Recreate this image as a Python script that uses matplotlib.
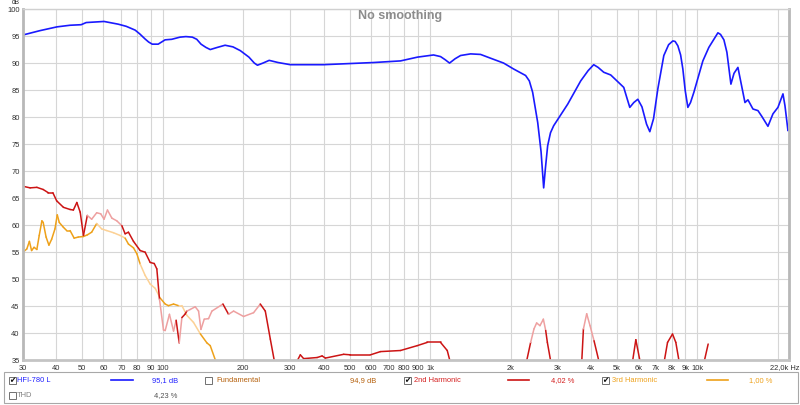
import matplotlib
matplotlib.use("Agg")
import matplotlib.pyplot as plt
from matplotlib.collections import LineCollection
from matplotlib.patches import Rectangle
import numpy as np

plt.rcParams["font.family"] = ["Liberation Sans", "DejaVu Sans"]

# ---------------- data ----------------
spl_freq = [30, 34.7, 40.2, 45, 49.5, 51.7, 60.3, 68.1, 73, 78.8, 82, 85.9, 88.5, 91.3, 96.1,
            99, 102, 108, 116, 122, 129, 134, 139, 145, 150.5, 160, 171, 183, 195, 210, 220,
            226, 237, 250, 270, 300, 399, 614, 775, 897, 1030, 1094, 1140, 1182, 1240,
            1300, 1417, 1544, 1683, 1883, 2053, 2276, 2350, 2418, 2526, 2600, 2659, 2700,
            2752, 2820, 2898, 3271, 3658, 3900, 4092, 4250, 4461, 4737, 5300, 5450, 5583,
            5780, 5983, 6200, 6450, 6634, 6850, 7107, 7485, 7800, 8091, 8250, 8446, 8650,
            8818, 9000, 9207, 9420, 9697, 10476, 11031, 11926, 12200, 12558, 12886, 13339,
            13700, 14169, 15055, 15447, 16128, 16839, 17425, 18350, 19160, 20004, 20886,
            21250, 21804, 22000]
spl_db = [95.1, 95.9, 96.6, 96.9, 97.0, 97.4, 97.6, 97.1, 96.7, 96.0, 95.3, 94.35, 93.8, 93.4,
          93.4, 93.8, 94.2, 94.3, 94.7, 94.8, 94.7, 94.3, 93.4, 92.8, 92.4, 92.8, 93.2, 92.9,
          92.2, 91.0, 89.9, 89.5, 89.9, 90.4, 90.0, 89.6, 89.6, 90.0, 90.3, 91.0, 91.4, 91.1,
          90.5, 89.9, 90.7, 91.3, 91.6, 91.5, 90.8, 89.9, 88.8, 87.6, 86.6, 84.5, 78.9, 73.5,
          66.8, 70.5, 74.6, 77.0, 78.3, 82.3, 86.6, 88.5, 89.6, 89.1, 88.2, 87.7, 85.4, 83.4,
          81.7, 82.6, 83.2, 81.8, 78.6, 77.2, 79.6, 85.1, 91.3, 93.3, 94.0, 93.9, 93.1, 91.4,
          88.8, 84.8, 81.7, 82.6, 84.5, 90.3, 92.8, 95.5, 95.2, 94.2, 91.9, 86.0, 88.0, 89.1,
          82.6, 83.1, 81.4, 81.1, 80.0, 78.2, 80.5, 81.7, 84.2, 82.0, 77.4, 77.6]

h2_freq = [30, 31.9, 33.8, 35.7, 37.3, 38.8, 40.1, 42.5, 45.0, 46.3, 47.7, 49.1, 50.5, 52.2,
           54.2, 56.6, 58.6, 60.3, 62.1, 64.5, 67.3, 70.3, 72.3, 74.4, 77.7, 82.3, 85.9, 89.7,
           92.9, 95.0, 97.2, 100.6, 102.1, 105.9, 109.7, 112.2, 115.2, 117.9, 121, 123.1,
           126.7, 132.2, 136.1, 138.9, 142.9, 148.3, 152.7, 167.9, 176.2, 184.0, 200.6, 218.6,
           231.6, 241.8, 252.5, 262, 290, 316, 327, 336.4, 377.8, 394.4, 405.8, 475, 503.3,
           598, 652, 774.6, 894.7, 975.4, 1094, 1159, 1190, 1700, 2290, 2377, 2446, 2503,
           2576, 2652, 2706, 2745, 2830, 3300, 3690, 3745, 3852, 3964, 4103, 4290, 5000,
           5710, 5881, 6110, 6800, 7500, 7728, 8067, 8300, 8550, 9500, 10580, 10966]
h2_db = [67.1, 66.8, 66.9, 66.5, 65.9, 65.9, 64.4, 63.2, 62.8, 62.7, 64.1, 62.3, 58.0, 61.7,
         61.0, 62.2, 62.0, 61.0, 62.7, 61.2, 60.7, 59.8, 58.3, 58.6, 56.9, 55.2, 54.9, 53.0,
         52.8, 51.8, 46.2, 40.5, 40.4, 43.4, 40.3, 42.3, 38.1, 42.8, 43.4, 44.0,
         44.3, 44.8, 44.0, 40.6, 42.5, 42.6, 44.0, 45.3, 43.4, 44.0, 43.0, 43.7,
         45.3, 44.0, 38.8, 34.5, 30, 34.5, 35.9, 35.2, 35.4, 35.7, 35.3, 36.0, 35.9,
         35.9, 36.5, 36.7, 37.6, 38.2, 38.2, 36.7, 34.5, 30, 34.5, 38.2, 40.7, 41.8,
         41.3, 42.5, 40.4, 38.2, 34.5, 30, 34.5, 40.7, 43.5, 41.3, 38.5, 34.5, 30,
         34.5, 38.7, 34.5, 30, 34.5, 38.2, 39.75, 38.2, 34.5, 30, 34.5, 37.9]
h2_light = [(51.5, 71), (97, 113), (116, 119), (124.5, 167), (176.5, 236), (2390, 2715), (3755, 4060)]

h3_freq = [30, 31.0, 31.7, 32.3, 33.0, 33.8, 34.5, 35.3, 35.7, 36.6, 37.5, 38.4, 39.5, 40.3,
           41.0, 42.5, 43.7, 45.0, 46.6, 48.3, 50.5, 52.2, 54.2, 56.6, 59.1, 61.7, 65.4, 69.2,
           72.3, 74.4, 77.7, 80.0, 82.3, 85.9, 89.7, 93.7, 97.8, 102.1, 105.0, 109.7, 114.5,
           117.9, 123.1, 130.3, 138.1, 146.3, 150.5, 157.1, 160]
h3_db = [54.9, 55.5, 56.9, 55.2, 55.8, 55.4, 58.0, 60.7, 60.4, 57.7, 56.2, 57.3, 59.2, 61.8,
         60.4, 59.5, 58.9, 58.9, 57.5, 57.7, 57.8, 58.1, 58.6, 60.2, 59.2, 58.9, 58.5, 58.0,
         57.5, 56.4, 55.7, 54.6, 52.7, 50.6, 49.0, 48.2, 46.4, 45.3, 45.0, 45.3, 45.0,
         45.0, 43.2, 41.9, 39.8, 38.1, 37.6, 35.0, 34.0]
h3_light = [(57, 72.3), (83.7, 97.8), (116, 141.7)]

x_ticks = [30, 40, 50, 60, 70, 80, 90, 100, 200, 300, 400, 500, 600, 700, 800, 900,
           1000, 2000, 3000, 4000, 5000, 6000, 7000, 8000, 9000, 10000, 20000]
x_labels = ["30", "40", "50", "60", "70", "80", "90", "100", "200", "300", "400", "500",
            "600", "700", "800", "900", "1k", "2k", "3k", "4k", "5k", "6k", "7k", "8k",
            "9k", "10k", ""]
y_ticks = list(range(35, 101, 5))

# ---------------- figure ----------------
W, H = 800, 406
FS = 5.4
fig = plt.figure(figsize=(W / 100, H / 100), dpi=100)
fig.patch.set_facecolor("white")
ax = fig.add_axes([23 / W, (H - 360.7) / H, 766 / W, 351.2 / H])
ax.set_xscale("log")
ax.set_xlim(30, 22000)
ax.set_ylim(35, 100)

ax.set_xticks(x_ticks)
ax.set_xticklabels(x_labels)
ax.xaxis.set_minor_locator(matplotlib.ticker.NullLocator())
ax.set_yticks(y_ticks)
ax.set_yticklabels([str(v) for v in y_ticks])
ax.tick_params(axis="both", length=0, labelsize=FS, colors="#303030")
ax.tick_params(axis="x", pad=3)
ax.tick_params(axis="y", pad=2.5)
ax.grid(True, color="#d6d6d6", lw=0.8)
ax.set_axisbelow(True)

for side, col, lw in [("top", "#d0d0d0", 1.0), ("right", "#b8b8b8", 2.0),
                      ("left", "#b8b8b8", 2.0), ("bottom", "#c4c4c4", 2.0)]:
    ax.spines[side].set_color(col)
    ax.spines[side].set_linewidth(lw)


def in_ranges(f, ranges):
    return any(lo <= f <= hi for lo, hi in ranges)


def draw_trace(freq, vals, light, dark_col, light_col, lw):
    pts = np.column_stack([freq, vals])
    segs = [pts[i:i + 2] for i in range(len(pts) - 1)]
    cols = []
    for i in range(len(pts) - 1):
        mid = np.sqrt(freq[i] * freq[i + 1])
        cols.append(light_col if in_ranges(mid, light) else dark_col)
    lc = LineCollection(segs, colors=cols, linewidths=lw, capstyle="round", joinstyle="round")
    ax.add_collection(lc)


draw_trace(h3_freq, h3_db, h3_light, "#eea11a", "#fcd195", 1.1)
draw_trace(h2_freq, h2_db, h2_light, "#cc1414", "#eea0a0", 1.1)
ax.plot(spl_freq, spl_db, color="#1a1aff", lw=1.2, solid_joinstyle="round",
        solid_capstyle="round")

# titles and axis texts
fig.text(400 / W, 1 - 16 / H, "No smoothing", ha="center", va="center",
         color="#8c8c8c", fontsize=9, fontweight="bold")
fig.text(12 / W, 1 - 2.5 / H, "dB", ha="left", va="center", fontsize=4.8, color="#303030")
fig.text(799 / W, 1 - 368 / H, "22,0k Hz", ha="right", va="center", fontsize=FS,
         color="#303030")

# ---------------- legend panel ----------------
fig.patches.append(Rectangle((4 / W, (H - 404) / H), 794 / W, 31 / H,
                             transform=fig.transFigure, fill=False, ec="#a8a8a8", lw=0.8))


def checkbox(x, y, checked):
    fig.patches.append(Rectangle((x / W, 1 - (y + 3.5) / H), 7 / W, 7 / H,
                                 transform=fig.transFigure, fill=True, fc="white",
                                 ec="#707070", lw=0.7))
    if checked:
        fig.text((x + 3.7) / W, 1 - y / H, "\u2714", ha="center", va="center",
                 fontsize=5.5, color="#101010", family="DejaVu Sans")


def label(x, y, s, color, ha="left"):
    fig.text(x / W, 1 - y / H, s, ha=ha, va="center", fontsize=FS, color=color)


def swatch(x0, x1, y, color):
    fig.lines.append(plt.Line2D([x0 / W, x1 / W], [1 - y / H, 1 - y / H],
                                transform=fig.transFigure, color=color, lw=1.2))


r1, r2 = 381, 396
checkbox(9, r1, True)
label(17, r1, "HFI-780 L", "#2020ff")
swatch(111, 133, r1, "#1a1aff")
label(178, r1, "95,1 dB", "#2020ff", ha="right")

checkbox(205, r1, False)
label(216, r1, "Fundamental", "#b5600c")
label(376, r1, "94,9 dB", "#b5600c", ha="right")

checkbox(404, r1, True)
label(414, r1, "2nd Harmonic", "#d41e1e")
swatch(508, 529, r1, "#cc1414")
label(574, r1, "4,02 %", "#d41e1e", ha="right")

checkbox(602, r1, True)
label(612, r1, "3rd Harmonic", "#eea11a")
swatch(707, 728, r1, "#eea11a")
label(772, r1, "1,00 %", "#eea11a", ha="right")

checkbox(9, r2, False)
label(17, r2, "THD", "#808080")
label(177, r2, "4,23 %", "#505050", ha="right")

fig.savefig("out.png", dpi=100, facecolor="white")
